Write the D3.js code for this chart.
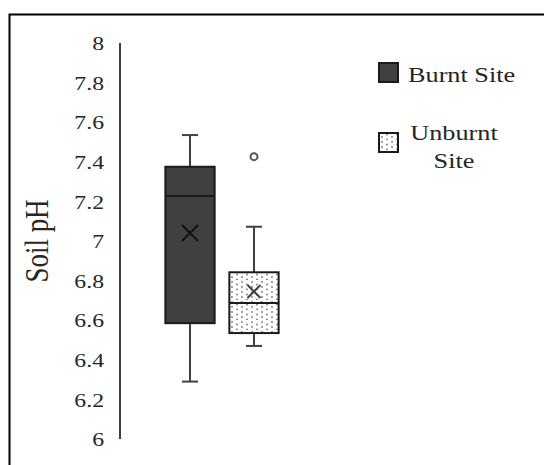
<!DOCTYPE html>
<html><head><meta charset="utf-8">
<script src="https://cdn.jsdelivr.net/npm/d3@7"></script>
<style>body{margin:0;background:#fff}svg{display:block}</style>
</head><body>
<script>
const categories = ["Burnt Site","Unburnt Site"];
const whiskerMin = [6.29, 6.47];
const q1 = [6.585, 6.535];
const median = [7.227, 6.687];
const q3 = [7.375, 6.842];
const whiskerMax = [7.535, 7.072];
const means = [7.04, 6.745];
const outliers = [[], [7.426]];
const yTicks = [6, 6.2, 6.4, 6.6, 6.8, 7, 7.2, 7.4, 7.6, 7.8, 8];
const yTitle = "Soil pH";
const legendLines = [["Burnt Site"], ["Unburnt", "Site"]];

const FONT = "'Liberation Serif', 'Times New Roman', Times, serif";
const W = 544, H = 465, SX = 1.25;
const svg = d3.select("body").append("svg").attr("width", W).attr("height", H);
const defs = svg.append("defs");
const pat = defs.append("pattern").attr("id","dots").attr("patternUnits","userSpaceOnUse").attr("width",10).attr("height",10);
pat.append("rect").attr("width",10).attr("height",10).attr("fill","#fff");
[[2,2],[7,4.5],[2,7],[7,9.5]].forEach(([cx,cy])=>pat.append("circle").attr("cx",cx).attr("cy",cy).attr("r",0.9).attr("fill","#777"));

// border (only top and left visible)
svg.append("path").attr("d", `M9.5,${H+5}V14.5H${W+5}`).attr("fill","none").attr("stroke","#000").attr("stroke-width",2);

const y = d3.scaleLinear().domain([6, 8]).range([439, 43]);
const x = d3.scaleBand().domain(categories).range([158, 286]).paddingInner(0).paddingOuter(0);
const boxW = x.bandwidth() * 0.77;
const cx = c => x(c) + x.bandwidth() / 2;

// axis
const axis = d3.axisLeft(y).tickValues(yTicks).tickSize(0).tickFormat(d => d3.format("")(d));
const ag = svg.append("g").attr("transform", "translate(120,0)").call(axis);
ag.attr("font-family", FONT).attr("font-size", 19);
ag.select(".domain").attr("stroke","#404040").attr("stroke-width",2).attr("d", `M0,${y(8)}V${y(6)}`);
ag.selectAll(".tick text").attr("x", 0).attr("dy", "0.35em").attr("text-anchor","end")
  .attr("font-family", FONT).attr("font-size", 19).attr("fill","#262626")
  .attr("transform", `translate(-16,0) scale(${SX},1)`);

// axis title
svg.append("text").attr("transform", `translate(48,${(y(6)+y(8))/2}) scale(${SX},1) rotate(-90)`)
  .attr("text-anchor","middle").attr("font-family", FONT).attr("font-size", 27).attr("fill","#262626").text(yTitle);

const fills = ["#404040", "url(#dots)"];
const g = svg.append("g");
categories.forEach((c, i) => {
  const X = cx(c);
  const capW = 16;
  g.append("line").attr("x1",X).attr("x2",X).attr("y1",y(q3[i])).attr("y2",y(whiskerMax[i])).attr("stroke","#404040").attr("stroke-width",2);
  g.append("line").attr("x1",X).attr("x2",X).attr("y1",y(q1[i])).attr("y2",y(whiskerMin[i])).attr("stroke","#404040").attr("stroke-width",2);
  g.append("line").attr("x1",X-capW/2).attr("x2",X+capW/2).attr("y1",y(whiskerMax[i])).attr("y2",y(whiskerMax[i])).attr("stroke","#404040").attr("stroke-width",2);
  g.append("line").attr("x1",X-capW/2).attr("x2",X+capW/2).attr("y1",y(whiskerMin[i])).attr("y2",y(whiskerMin[i])).attr("stroke","#404040").attr("stroke-width",2);
  g.append("rect").attr("x",X-boxW/2).attr("width",boxW).attr("y",y(q3[i])).attr("height",y(q1[i])-y(q3[i]))
    .attr("fill",fills[i]).attr("stroke","#1a1a1a").attr("stroke-width",2);
  g.append("line").attr("x1",X-boxW/2).attr("x2",X+boxW/2).attr("y1",y(median[i])).attr("y2",y(median[i])).attr("stroke","#1a1a1a").attr("stroke-width",2);
  const m = y(means[i]), s = i === 0 ? 8 : 6.5;
  g.append("path").attr("d",`M${X-s},${m-s}L${X+s},${m+s}M${X-s},${m+s}L${X+s},${m-s}`)
    .attr("stroke", i === 0 ? "#111" : "#404040").attr("stroke-width", 2).attr("fill","none");
  outliers[i].forEach(v => g.append("circle").attr("cx",X).attr("cy",y(v)).attr("r",3.5).attr("fill","#fff").attr("stroke","#555").attr("stroke-width",2));
});

// legend
const lg = svg.append("g").attr("font-family", FONT).attr("font-size", 21).attr("fill", "#262626");
const legSq = [{x:379, y:63}, {x:379, y:133}];
legSq.forEach((p, i) => {
  lg.append("rect").attr("x",p.x).attr("y",p.y).attr("width",19).attr("height",19).attr("fill",fills[i]).attr("stroke","#1a1a1a").attr("stroke-width",2);
});
lg.append("text").attr("transform",`translate(408,81.5) scale(${SX},1)`).text(legendLines[0][0]);
lg.append("text").attr("transform",`translate(454,140) scale(${SX},1)`).attr("text-anchor","middle").text(legendLines[1][0]);
lg.append("text").attr("transform",`translate(454,168) scale(${SX},1)`).attr("text-anchor","middle").text(legendLines[1][1]);
</script>
</body></html>
